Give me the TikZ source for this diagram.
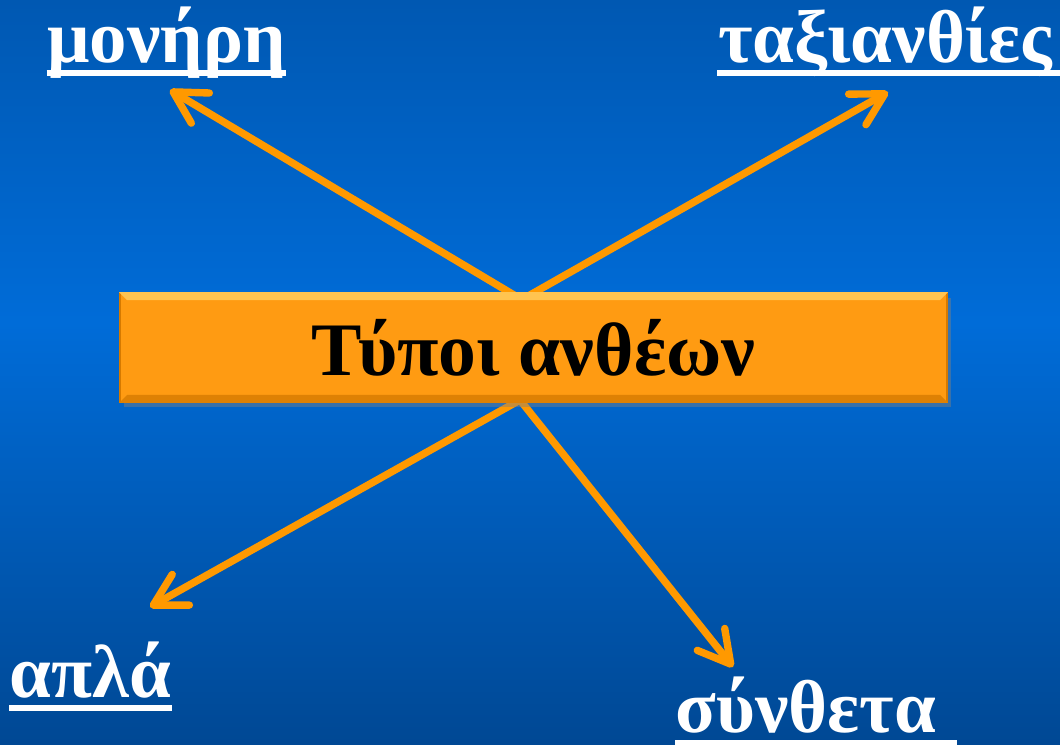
\documentclass[tikz,border=0pt]{standalone}
\usepackage{fontspec}
\setmainfont{Liberation Serif}
\usetikzlibrary{arrows.meta,calc,positioning,shadows}
\definecolor{bgtop}{RGB}{0,88,178}
\definecolor{bgmid}{RGB}{0,108,216}
\definecolor{bgbot}{RGB}{0,72,148}
\definecolor{ray}{RGB}{255,153,0}
\definecolor{boxfill}{RGB}{255,155,18}
\definecolor{boxhi}{RGB}{255,196,80}
\definecolor{boxlo}{RGB}{214,122,0}

\tikzset{
  headbox/.style={minimum width=8.27cm, minimum height=1.09cm, inner sep=0pt,
    fill=boxfill, draw=boxlo, line width=0.5pt,
    drop shadow={shadow xshift=1pt, shadow yshift=-1.5pt, opacity=0.45},
    font=\fontsize{21.5}{26}\selectfont\bfseries, text=black},
  kind/.style={font=\fontsize{21.3}{25}\selectfont\bfseries, text=white, inner sep=0pt, anchor=base},
  uline/.style={white, line width=1.8pt},
  rayline/.style={ray, line width=2.1pt, line cap=round,
    -{Straight Barb[length=9pt,width=10pt,round]}}
}

\begin{document}
\begin{tikzpicture}
  \shade[top color=bgtop, bottom color=bgmid] (0,4.2) rectangle (10.6,7.44);
  \shade[top color=bgmid, bottom color=bgbot] (0,0) rectangle (10.6,4.21);
  \useasboundingbox (0,0) rectangle (10.6,7.44);
  % where the rays leave the box, and where they point
  \coordinate (nl) at (5.14,4.49); \coordinate (nr) at (5.30,4.49);
  \coordinate (sc) at (5.20,3.44);
  \coordinate (tmon) at (1.70,6.54); \coordinate (ttax) at (8.88,6.52);
  \coordinate (tapl) at (1.50,1.37); \coordinate (tsyn) at (7.33,0.77);
  \draw[rayline] (nl) -- (tmon); \draw[rayline] (nr) -- (ttax);
  \draw[rayline] (sc) -- (tapl); \draw[rayline] (sc) -- (tsyn);
  \node[headbox] (box) at (5.335,3.965) {};
  \fill[boxhi] (box.north west) -- (box.north east) -- ([shift={(-0.08,-0.08)}]box.north east) -- ([shift={(0.08,-0.08)}]box.north west) -- cycle;
  \fill[boxlo!80!boxfill] (box.south west) -- (box.south east) -- ([shift={(-0.08,0.08)}]box.south east) -- ([shift={(0.08,0.08)}]box.south west) -- cycle;
  \node[font=\fontsize{21.5}{26}\selectfont\bfseries] at (box) {Τύποι ανθέων};
  \node[kind] (mon) at (1.665,6.82) {μονήρη};
  \node[kind] (tax) at (8.85,6.82) {ταξιανθίες};
  \node[kind] (apl) at (0.905,0.47) {απλά};
  \node[kind] (syn) at (8.06,0.12) {σύνθετα};
  \draw[uline] ([yshift=-3.1pt]mon.base west) -- ([yshift=-3.1pt]mon.base east);
  \draw[uline] ([yshift=-3.1pt]tax.base west) -- ([shift={(0.1,-3.1pt)}]tax.base east);
  \draw[uline] ([yshift=-3.1pt]apl.base west) -- ([yshift=-3.1pt]apl.base east);
  \draw[uline] ([yshift=-3.1pt]syn.base west) -- ([shift={(0.2,-3.1pt)}]syn.base east);
\end{tikzpicture}
\end{document}
